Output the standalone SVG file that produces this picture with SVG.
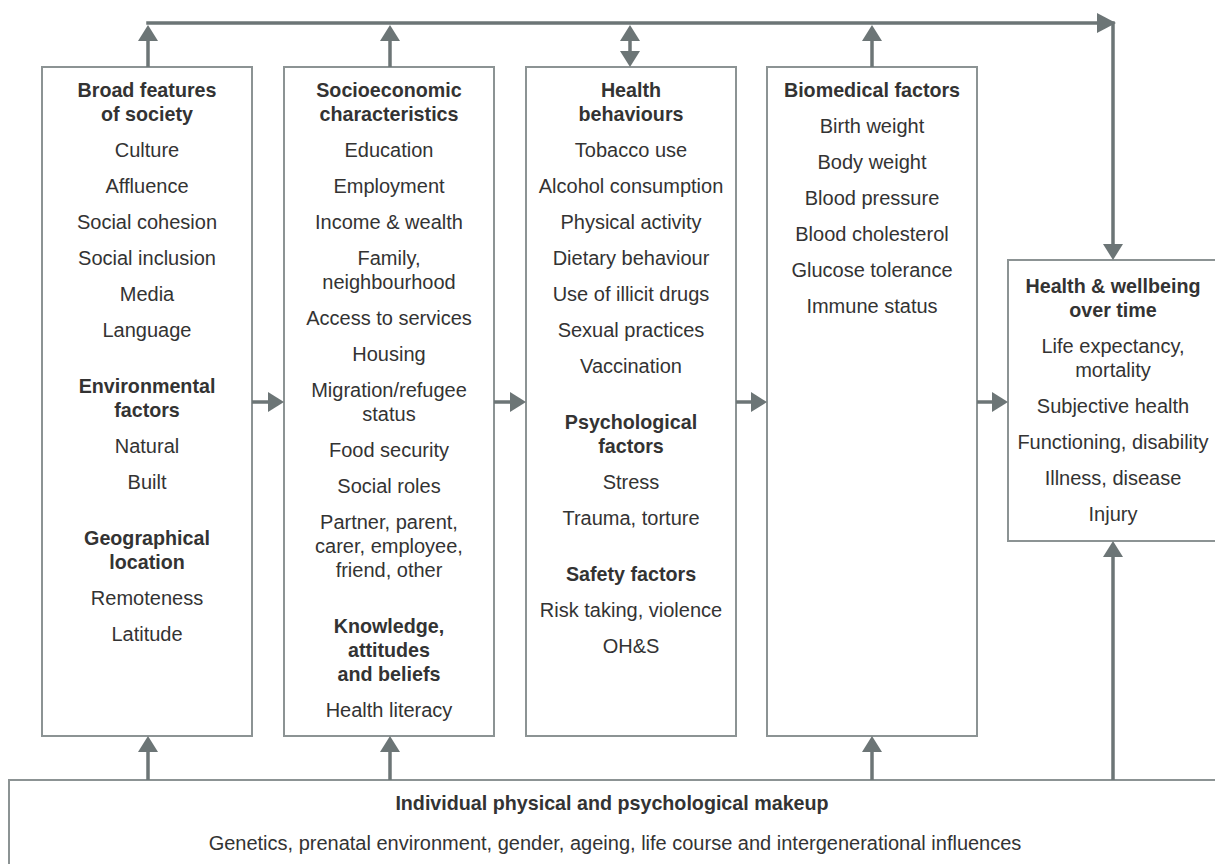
<svg xmlns="http://www.w3.org/2000/svg" width="1215" height="864" viewBox="0 0 1215 864">
  <style>
    .box { fill: #ffffff; stroke: #8c9394; stroke-width: 2; }
    .conn { fill: none; stroke: #6c7576; stroke-width: 3.5; }
    .head { fill: #6c7576; }
    text { font-family: "Liberation Sans", Arial, sans-serif; font-size: 20px; fill: #333333; text-anchor: middle; }
    .b { font-weight: bold; font-size: 19.7px; }
  </style>
  <defs>
    <marker id="arrow" viewBox="0 0 16 20" refX="0" refY="10" markerWidth="16" markerHeight="20" markerUnits="userSpaceOnUse" orient="auto-start-reverse">
      <path d="M0,0 L16,10 L0,20 Z" class="head"/>
    </marker>
  </defs>

  <rect width="1215" height="864" fill="#ffffff"/>

  <!-- boxes -->
  <g id="broad-features">
    <rect class="box" x="42" y="67" width="210" height="669"/>
    <text x="147" y="97" class="b">Broad features</text>
    <text x="147" y="121" class="b">of society</text>
    <text x="147" y="157">Culture</text>
    <text x="147" y="193">Affluence</text>
    <text x="147" y="229">Social cohesion</text>
    <text x="147" y="265">Social inclusion</text>
    <text x="147" y="301">Media</text>
    <text x="147" y="337">Language</text>
    <text x="147" y="393" class="b">Environmental</text>
    <text x="147" y="417" class="b">factors</text>
    <text x="147" y="453">Natural</text>
    <text x="147" y="489">Built</text>
    <text x="147" y="545" class="b">Geographical</text>
    <text x="147" y="569" class="b">location</text>
    <text x="147" y="605">Remoteness</text>
    <text x="147" y="641">Latitude</text>
  </g>

  <g id="socioeconomic">
    <rect class="box" x="284" y="67" width="210" height="669"/>
    <text x="389" y="97" class="b">Socioeconomic</text>
    <text x="389" y="121" class="b">characteristics</text>
    <text x="389" y="157">Education</text>
    <text x="389" y="193">Employment</text>
    <text x="389" y="229">Income &amp; wealth</text>
    <text x="389" y="265">Family,</text>
    <text x="389" y="289">neighbourhood</text>
    <text x="389" y="325">Access to services</text>
    <text x="389" y="361">Housing</text>
    <text x="389" y="397">Migration/refugee</text>
    <text x="389" y="421">status</text>
    <text x="389" y="457">Food security</text>
    <text x="389" y="493">Social roles</text>
    <text x="389" y="529">Partner, parent,</text>
    <text x="389" y="553">carer, employee,</text>
    <text x="389" y="577">friend, other</text>
    <text x="389" y="633" class="b">Knowledge,</text>
    <text x="389" y="657" class="b">attitudes</text>
    <text x="389" y="681" class="b">and beliefs</text>
    <text x="389" y="717">Health literacy</text>
  </g>

  <g id="health-behaviours">
    <rect class="box" x="526" y="67" width="210" height="669"/>
    <text x="631" y="97" class="b">Health</text>
    <text x="631" y="121" class="b">behaviours</text>
    <text x="631" y="157">Tobacco use</text>
    <text x="631" y="193">Alcohol consumption</text>
    <text x="631" y="229">Physical activity</text>
    <text x="631" y="265">Dietary behaviour</text>
    <text x="631" y="301">Use of illicit drugs</text>
    <text x="631" y="337">Sexual practices</text>
    <text x="631" y="373">Vaccination</text>
    <text x="631" y="429" class="b">Psychological</text>
    <text x="631" y="453" class="b">factors</text>
    <text x="631" y="489">Stress</text>
    <text x="631" y="525">Trauma, torture</text>
    <text x="631" y="581" class="b">Safety factors</text>
    <text x="631" y="617">Risk taking, violence</text>
    <text x="631" y="653">OH&amp;S</text>
  </g>

  <g id="biomedical">
    <rect class="box" x="767" y="67" width="210" height="669"/>
    <text x="872" y="97" class="b">Biomedical factors</text>
    <text x="872" y="133">Birth weight</text>
    <text x="872" y="169">Body weight</text>
    <text x="872" y="205">Blood pressure</text>
    <text x="872" y="241">Blood cholesterol</text>
    <text x="872" y="277">Glucose tolerance</text>
    <text x="872" y="313">Immune status</text>
  </g>

  <g id="health-wellbeing">
    <rect class="box" x="1008" y="260" width="210" height="281"/>
    <text x="1113" y="293" class="b">Health &amp; wellbeing</text>
    <text x="1113" y="317" class="b">over time</text>
    <text x="1113" y="353">Life expectancy,</text>
    <text x="1113" y="377">mortality</text>
    <text x="1113" y="413">Subjective health</text>
    <text x="1113" y="449">Functioning, disability</text>
    <text x="1113" y="485">Illness, disease</text>
    <text x="1113" y="521">Injury</text>
  </g>

  <g id="individual-makeup">
    <rect class="box" x="9" y="780" width="1212" height="100"/>
    <text x="612" y="810" class="b">Individual physical and psychological makeup</text>
    <text x="615" y="850">Genetics, prenatal environment, gender, ageing, life course and intergenerational influences</text>
  </g>

  <!-- connectors -->
  <g id="connectors">
    <!-- feedback line across the top, down into health & wellbeing -->
    <path class="conn" d="M146.25,23 H1113 V244" marker-end="url(#arrow)"/>
    <polygon class="head" points="1097,13 1116,23 1097,33"/>

    <!-- boxes up to the top line -->
    <path class="conn" d="M148,67 V41" marker-end="url(#arrow)"/>
    <path class="conn" d="M390,67 V41" marker-end="url(#arrow)"/>
    <path class="conn" d="M630,41 V51" marker-start="url(#arrow)" marker-end="url(#arrow)"/>
    <path class="conn" d="M872,67 V41" marker-end="url(#arrow)"/>

    <!-- left-to-right flow -->
    <path class="conn" d="M252,402 H268" marker-end="url(#arrow)"/>
    <path class="conn" d="M494,402 H510" marker-end="url(#arrow)"/>
    <path class="conn" d="M736,402 H751" marker-end="url(#arrow)"/>
    <path class="conn" d="M977,402 H992" marker-end="url(#arrow)"/>

    <!-- individual makeup up into each column -->
    <path class="conn" d="M148,780 V752" marker-end="url(#arrow)"/>
    <path class="conn" d="M390,780 V752" marker-end="url(#arrow)"/>
    <path class="conn" d="M872,780 V752" marker-end="url(#arrow)"/>
    <path class="conn" d="M1113,780 V557" marker-end="url(#arrow)"/>
  </g>
</svg>
